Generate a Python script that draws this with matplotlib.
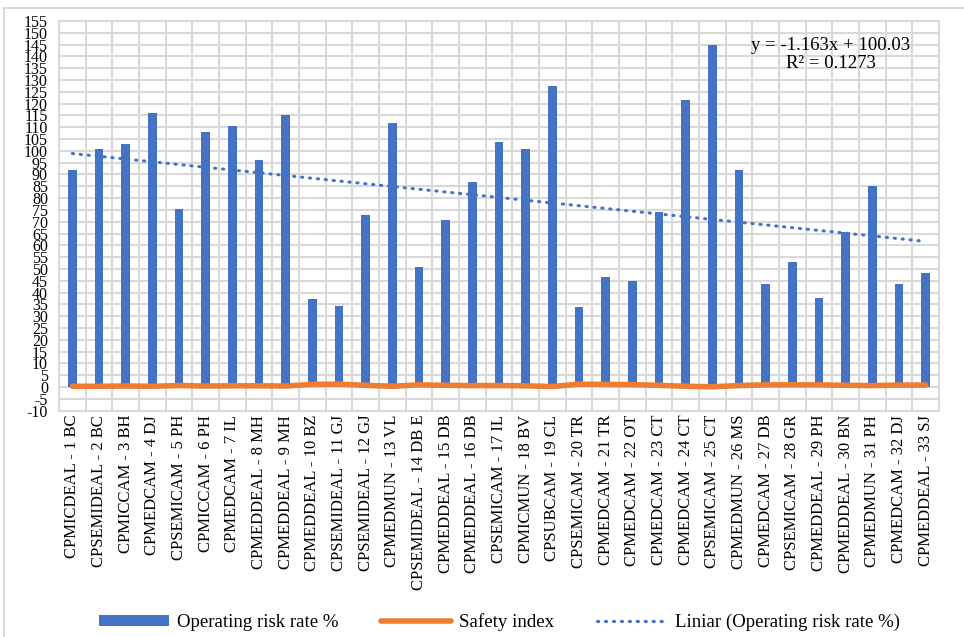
import matplotlib
matplotlib.use("Agg")
import matplotlib.pyplot as plt
import numpy as np
from matplotlib.patches import Patch
from matplotlib.lines import Line2D

categories = [
    "CPMICDEAL - 1 BC", "CPSEMIDEAL - 2 BC", "CPMICCAM - 3 BH", "CPMEDCAM - 4 DJ",
    "CPSEMICAM - 5 PH", "CPMICCAM - 6 PH", "CPMEDCAM - 7 IL", "CPMEDDEAL - 8 MH",
    "CPMEDDEAL - 9 MH", "CPMEDDEAL - 10 BZ", "CPSEMIDEAL - 11 GJ", "CPSEMIDEAL - 12 GJ",
    "CPMEDMUN - 13 VL", "CPSEMIDEAL - 14 DB E", "CPMEDDEAL - 15 DB", "CPMEDDEAL - 16 DB",
    "CPSEMICAM - 17 IL", "CPMICMUN - 18 BV", "CPSUBCAM - 19 CL", "CPSEMICAM - 20 TR",
    "CPMEDCAM - 21 TR", "CPMEDCAM - 22 OT", "CPMEDCAM - 23 CT", "CPMEDCAM - 24 CT",
    "CPSEMICAM - 25 CT", "CPMEDMUN - 26 MS", "CPMEDCAM - 27 DB", "CPSEMICAM - 28 GR",
    "CPMEDDEAL - 29 PH", "CPMEDDEAL - 30 BN", "CPMEDMUN - 31 PH", "CPMEDCAM - 32 DJ",
    "CPMEDDEAL - 33 SJ",
]

operating_risk = [
    91.7, 101.0, 103.0, 116.2, 75.3, 107.9, 110.6, 96.2, 115.1, 37.4,
    34.3, 73.0, 111.6, 50.7, 70.8, 86.9, 103.9, 100.6, 127.4, 33.9,
    46.5, 44.8, 74.3, 121.7, 145.0, 92.1, 43.6, 53.1, 37.7, 65.5,
    85.3, 43.5, 48.3,
]

safety_index = [
    0.3, 0.3, 0.4, 0.3, 0.6, 0.4, 0.5, 0.5, 0.4, 1.1,
    1.2, 0.7, 0.3, 0.9, 0.7, 0.6, 0.6, 0.5, 0.2, 1.2,
    1.1, 1.0, 0.7, 0.3, 0.1, 0.6, 0.9, 0.9, 0.9, 0.7,
    0.6, 0.8, 0.8,
]

trend_slope = -1.163
trend_intercept = 100.03
trend_r2 = 0.1273

yticks = list(range(-10, 160, 5))

BLUE = "#4472C4"
ORANGE = "#ED7D31"
GRID = "#D9D9D9"
SERIF = ["Liberation Serif", "DejaVu Serif"]

plt.rcParams['font.family'] = SERIF

fig = plt.figure(figsize=(9.64, 6.37), dpi=100)
ax = fig.add_axes([59 / 964, 1 - 410.6 / 637, 880 / 964, (410.6 - 21) / 637])

n = len(categories)
x = np.arange(1, n + 1)

ax.bar(x, operating_risk, width=0.33, color=BLUE, zorder=3)
ax.plot(x, safety_index, color=ORANGE, lw=4, solid_capstyle='round', zorder=4)
trend = trend_slope * x + trend_intercept
DOTS = (0, (0.4, 2.2))
ax.plot(x, trend, color=BLUE, lw=2.2, linestyle=DOTS,
        dash_capstyle='round', zorder=5)

ax.set_xlim(0.5, n + 0.5)
ax.set_ylim(-10, 155)
ax.set_yticks(yticks)
ax.set_yticklabels([str(v) for v in yticks], fontsize=11.5)
ax.set_xticks(x)
ax.set_xticklabels(categories, rotation=90, fontsize=12)
ax.tick_params(axis='both', length=0, pad=3)
ax.tick_params(axis='y', pad=8)

# grid: horizontal every 5, vertical at category boundaries
ax.set_xticks(np.arange(0.5, n + 1.5, 1), minor=True)
ax.grid(axis='y', which='major', color=GRID, lw=1.5, zorder=0)
ax.grid(axis='x', which='minor', color=GRID, lw=1.5, zorder=0)
ax.tick_params(axis='x', which='minor', length=0)
for s in ax.spines.values():
    s.set_color(GRID)
    s.set_linewidth(1.5)

ax.text((831 - 59) / 880, 0.958, f"y = {trend_slope}x + {trend_intercept:.2f}\nR² = {trend_r2}",
        transform=ax.transAxes, ha='center', va='top', fontsize=13.5,
        linespacing=1.05, zorder=6)

handles = [
    Patch(facecolor=BLUE, edgecolor='none'),
    Line2D([0], [0], color=ORANGE, lw=4, solid_capstyle='round'),
    Line2D([0], [0], color=BLUE, lw=2.2, linestyle=DOTS, dash_capstyle='round'),
]
labels = ["Operating risk rate %", "Safety index", "Liniar (Operating risk rate %)"]
fig.legend(handles, labels, loc='center', bbox_to_anchor=(499.5 / 964, 1 - 622 / 637),
           ncol=3, frameon=False, fontsize=13.6, handlelength=3.7, handleheight=0.5,
           columnspacing=2.3, handletextpad=0.4)

# outer chart border (left & top visible)
fig.add_artist(Line2D([4 / 964, 4 / 964], [0, 1 - 8 / 637], transform=fig.transFigure,
                      color=GRID, lw=1.5))
fig.add_artist(Line2D([4 / 964, 1], [1 - 8 / 637, 1 - 8 / 637], transform=fig.transFigure,
                      color=GRID, lw=1.5))

fig.savefig("out.png", dpi=100)
